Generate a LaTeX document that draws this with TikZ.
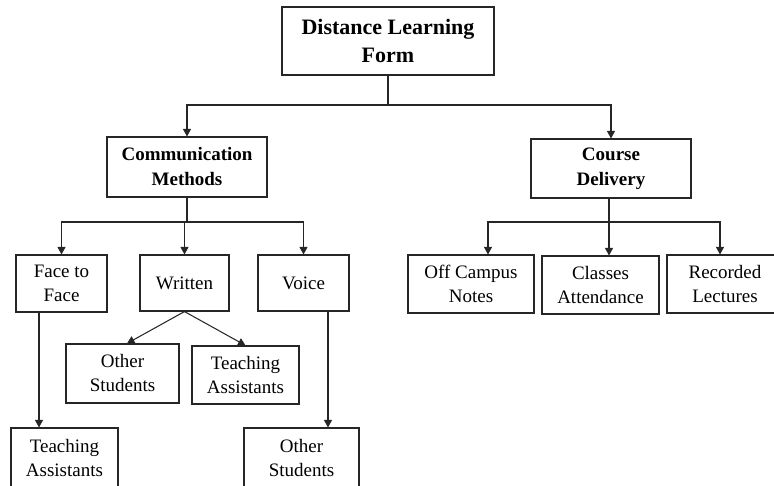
\documentclass[tikz,border=0pt]{standalone}
\usepackage{fontspec}
\setmainfont{Liberation Serif}
\usetikzlibrary{arrows.meta}
\tikzset{
  box/.style={draw=black!85, line width=1.1pt, inner sep=0pt, align=center, font=\fontsize{19}{24}\selectfont},
  boldbox/.style={box, font=\fontsize{19}{25}\selectfont\bfseries},
  topbox/.style={box, font=\fontsize{22}{28.5}\selectfont\bfseries},
  conn/.style={draw=black!85, line width=1.05pt},
  arr/.style={conn, -{Triangle[length=7.5pt,width=8pt]}}
}
\begin{document}
\begin{tikzpicture}[x=1pt,y=-1pt]
\useasboundingbox (0,0) rectangle (774,486);
\clip (0,0) rectangle (774,486);
\node[topbox, minimum width=212pt, minimum height=68pt] (top) at (388,41) {Distance Learning\\Form};
\node[boldbox, minimum width=160pt, minimum height=60pt] (comm) at (187,167) {Communication\\Methods};
\node[boldbox, minimum width=160pt, minimum height=59pt] (course) at (611,168.5) {Course\\Delivery};

\node[box, minimum width=91pt, minimum height=57pt] (face) at (61.5,283.5) {Face to\\Face};
\node[box, minimum width=89pt, minimum height=56pt] (written) at (184.5,283) {Written};
\node[box, minimum width=91pt, minimum height=56pt] (voice) at (303.5,283) {Voice};

\node[box, minimum width=113pt, minimum height=59pt] (os1) at (122.5,373.5) {Other\\Students};
\node[box, minimum width=107pt, minimum height=58pt] (ta1) at (245.5,375) {Teaching\\Assistants};

\node[box, minimum width=107pt, minimum height=60pt] (ta2) at (64.5,458) {Teaching\\Assistants};
\node[box, minimum width=115pt, minimum height=60pt] (os2) at (301.5,458) {Other\\Students};

\node[box, minimum width=126pt, minimum height=58pt] (off) at (471,284) {Off Campus\\Notes};
\node[box, minimum width=117pt, minimum height=58pt] (cls) at (600.5,285) {Classes\\Attendance};
\node[box, minimum width=116pt, minimum height=58pt] (rec) at (725,284) {Recorded\\Lectures};

% top level
\coordinate (tj) at (388,105);
\draw[conn] (top.south) -- (tj);
\draw[arr] (tj) -| (comm.north);
\draw[arr] (tj) -| (course.north);

% communication methods
\coordinate (cj) at (187,222);
\draw[conn] (comm.south) -- (cj);
\draw[arr] (cj) -| (face.north);
\draw[arr] (cj) -| (written.north);
\draw[arr] (cj) -| (voice.north);

% written
\draw[arr] (written.south) -- ([xshift=4.5pt]os1.north);
\draw[arr] (written.south) -- (ta1.north);

% face to face and voice
\draw[arr] ([xshift=-22.5pt]face.south) -- ([xshift=-22.5pt]face.south |- ta2.north);
\draw[arr] ([xshift=24.5pt]voice.south) -- ([xshift=24.5pt]voice.south |- os2.north);

% course delivery
\coordinate (dj) at (609,222);
\draw[conn] ([xshift=-2pt]course.south) -- (dj);
\draw[arr] (dj) -| ([xshift=17pt]off.north);
\draw[arr] (dj) -| ([xshift=8.5pt]cls.north);
\draw[arr] (dj) -| ([xshift=-5pt]rec.north);
\end{tikzpicture}
\end{document}
